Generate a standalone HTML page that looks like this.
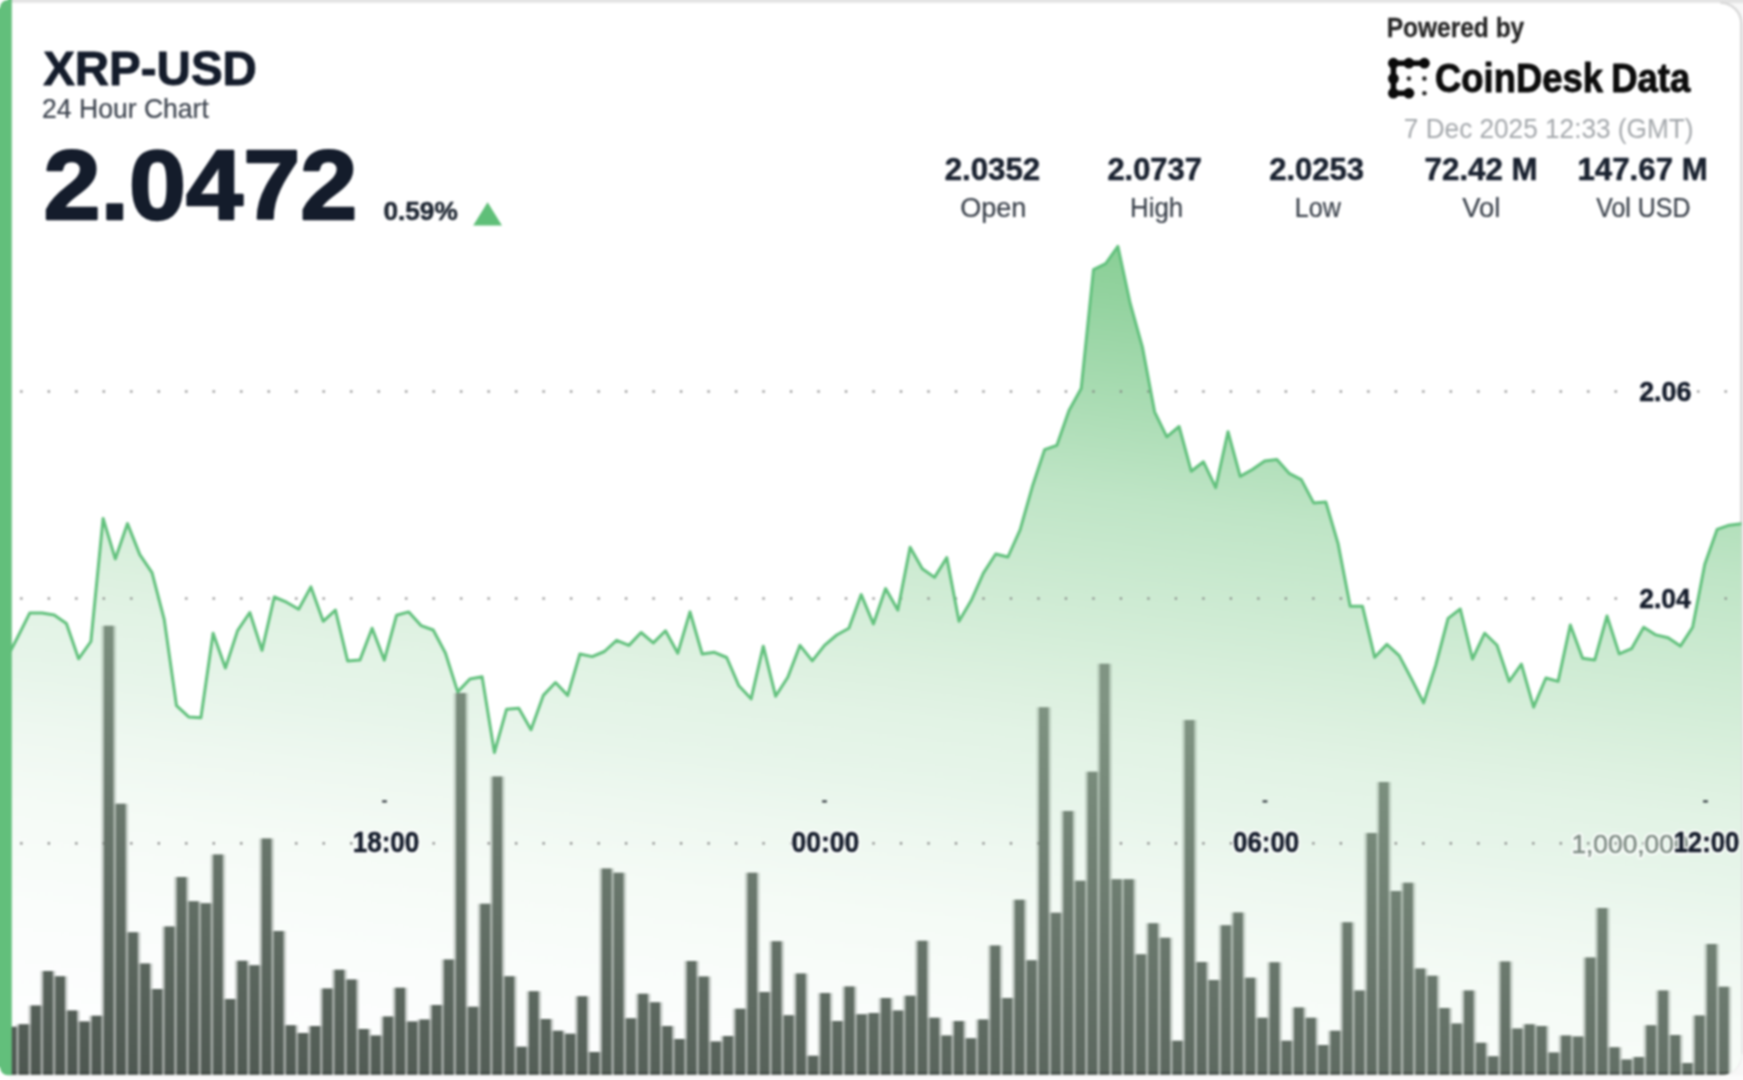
<!DOCTYPE html>
<html><head><meta charset="utf-8"><title>XRP-USD 24 Hour Chart</title><style>html,body{margin:0;padding:0;background:#fff;}body{width:1743px;height:1080px;overflow:hidden;position:relative;font-family:"Liberation Sans",sans-serif;}svg{display:block;filter:blur(0.9px);}</style></head><body><svg width="1767" height="1104" viewBox="-12 -12 1767 1104" style="position:absolute;left:-12px;top:-12px">
<defs><linearGradient id="gf" gradientUnits="userSpaceOnUse" x1="870.00" y1="170.93" x2="742.03" y2="1174.61"><stop offset="0.0000" stop-color="rgb(129,204,143)"/><stop offset="0.0392" stop-color="rgb(137,207,149)"/><stop offset="0.0980" stop-color="rgb(148,211,160)"/><stop offset="0.2892" stop-color="rgb(191,229,198)"/><stop offset="0.4902" stop-color="rgb(221,241,224)"/><stop offset="0.5294" stop-color="rgb(226,243,229)"/><stop offset="0.5902" stop-color="rgb(231,245,234)"/><stop offset="0.6490" stop-color="rgb(238,248,240)"/><stop offset="0.7255" stop-color="rgb(245,251,246)"/><stop offset="0.8235" stop-color="rgb(250,253,251)"/><stop offset="0.9216" stop-color="rgb(253,254,254)"/><stop offset="1.0000" stop-color="rgb(255,255,255)"/></linearGradient><linearGradient id="gb" gradientUnits="userSpaceOnUse" x1="870.00" y1="670.92" x2="804.76" y2="1182.61"><stop offset="0.0000" stop-color="rgb(128,148,131)"/><stop offset="0.0769" stop-color="rgb(124,144,127)"/><stop offset="0.4423" stop-color="rgb(106,120,109)"/><stop offset="0.9115" stop-color="rgb(81,91,84)"/><stop offset="1.0000" stop-color="rgb(77,86,80)"/></linearGradient><clipPath id="cc"><path d="M0,2.8 H1720.4 A21,21 0 0 1 1741.4,23.8 V1054.3 A21,21 0 0 1 1720.4,1075.3 H8 A8,8 0 0 1 0,1067.3 Z"/></clipPath><filter id="bl" x="-5%" y="-5%" width="110%" height="110%"><feGaussianBlur stdDeviation="0.7"/></filter></defs>
<rect x="-12" y="-12" width="1767" height="1104" fill="#f7f7f7"/>
<rect x="-12" y="-12" width="1767" height="15.0" fill="#e3e3e3"/>
<rect x="-12" y="1075.3" width="1767" height="16.700000000000045" fill="#fbfbfb"/>
<path d="M0,2.8 H1720.4 A21,21 0 0 1 1741.4,23.8 V1054.3 A21,21 0 0 1 1720.4,1075.3 H8 A8,8 0 0 1 0,1067.3 Z" fill="#ffffff"/>
<path d="M1720.4,2.8 A21,21 0 0 1 1741.4,23.8 V1054.3" fill="none" stroke="#d9d9d9" stroke-width="2.6"/>
<path d="M1741.4,1054.3 A21,21 0 0 1 1720.4,1075.3 H12" fill="none" stroke="#e9e9e9" stroke-width="1.6"/>
<g clip-path="url(#cc)">
<path d="M5.3,661.0 L17.5,637.5 L29.7,613.1 L42.0,613.0 L54.2,614.9 L66.4,623.5 L78.6,658.8 L90.9,641.5 L103.1,518.4 L115.3,558.9 L127.5,523.6 L139.8,554.6 L152.0,572.7 L164.2,619.4 L176.5,705.7 L188.7,716.9 L200.9,717.8 L213.1,633.2 L225.4,668.0 L237.6,630.6 L249.8,612.5 L262.0,650.4 L274.3,597.0 L286.5,602.2 L298.7,609.3 L310.9,586.9 L323.2,621.3 L335.4,610.1 L347.6,660.9 L359.9,660.1 L372.1,628.2 L384.3,660.1 L396.5,615.3 L408.8,611.9 L421.0,625.6 L433.2,630.0 L445.4,653.0 L457.7,691.9 L469.9,679.0 L482.1,676.8 L494.4,752.5 L506.6,709.2 L518.8,708.3 L531.0,729.8 L543.3,695.4 L555.5,682.5 L567.7,695.4 L579.9,654.0 L592.2,656.6 L604.4,651.5 L616.6,640.3 L628.9,645.4 L641.1,632.5 L653.3,642.9 L665.5,630.8 L677.8,653.2 L690.0,611.9 L702.2,654.0 L714.4,652.3 L726.7,657.5 L738.9,685.8 L751.1,698.8 L763.3,646.2 L775.6,696.2 L787.8,677.2 L800.0,645.4 L812.3,660.9 L824.5,645.4 L836.7,635.0 L848.9,628.2 L861.2,594.6 L873.4,623.9 L885.6,588.6 L897.8,610.1 L910.1,547.2 L922.3,568.7 L934.5,577.4 L946.8,557.6 L959.0,621.3 L971.2,600.6 L983.4,573.1 L995.7,554.0 L1007.9,557.0 L1020.1,529.8 L1032.3,486.8 L1044.6,449.7 L1056.8,445.4 L1069.0,410.4 L1081.2,388.5 L1093.5,269.6 L1105.7,263.6 L1117.9,246.4 L1130.2,303.5 L1142.4,347.1 L1154.6,411.8 L1166.8,436.8 L1179.1,426.5 L1191.3,471.3 L1203.5,461.8 L1215.7,487.6 L1228.0,431.7 L1240.2,476.4 L1252.4,469.5 L1264.7,460.9 L1276.9,459.5 L1289.1,473.3 L1301.3,479.6 L1313.6,502.9 L1325.8,502.0 L1338.0,543.3 L1350.2,606.3 L1362.5,606.3 L1374.7,657.3 L1386.9,644.4 L1399.2,655.6 L1411.4,678.8 L1423.6,702.9 L1435.8,665.0 L1448.1,618.4 L1460.3,609.0 L1472.5,659.0 L1484.7,633.2 L1497.0,645.2 L1509.2,681.4 L1521.4,664.2 L1533.6,707.2 L1545.9,678.0 L1558.1,681.4 L1570.3,625.0 L1582.6,658.2 L1594.8,659.9 L1607.0,616.0 L1619.2,653.9 L1631.5,648.7 L1643.7,627.2 L1655.9,634.9 L1668.1,637.7 L1680.4,646.1 L1692.6,627.2 L1704.8,564.3 L1717.1,529.4 L1729.3,525.2 L1741.5,523.8 L1753.7,523.0 L1753.7,1074.6 L5.3,1074.6 Z" fill="url(#gf)"/>
<line x1="20.25" y1="391.5" x2="1743" y2="391.5" stroke="#7c7c7c" stroke-width="2.2" stroke-dasharray="2.2 25.29" opacity="1"/>
<line x1="20.25" y1="598.5" x2="1743" y2="598.5" stroke="#7c7c7c" stroke-width="2.2" stroke-dasharray="2.2 25.29" opacity="1"/>
<line x1="20.25" y1="843.4" x2="1743" y2="843.4" stroke="#7c7c7c" stroke-width="2.2" stroke-dasharray="2.2 25.29" opacity="1"/>
<path d="M4.16,1074.6V1026.8h14.8V1074.6z" fill="url(#gb)" opacity="0.33"/>
<path d="M16.30,1074.6V1024.2h14.8V1074.6z" fill="url(#gb)" opacity="0.33"/>
<path d="M28.44,1074.6V1005.4h14.8V1074.6z" fill="url(#gb)" opacity="0.33"/>
<path d="M40.59,1074.6V971.0h14.8V1074.6z" fill="url(#gb)" opacity="0.33"/>
<path d="M52.73,1074.6V976.2h14.8V1074.6z" fill="url(#gb)" opacity="0.33"/>
<path d="M64.88,1074.6V1010.5h14.8V1074.6z" fill="url(#gb)" opacity="0.33"/>
<path d="M77.02,1074.6V1021.6h14.8V1074.6z" fill="url(#gb)" opacity="0.33"/>
<path d="M89.16,1074.6V1015.7h14.8V1074.6z" fill="url(#gb)" opacity="0.33"/>
<path d="M101.31,1074.6V625.8h14.8V1074.6z" fill="url(#gb)" opacity="0.33"/>
<path d="M113.45,1074.6V803.7h14.8V1074.6z" fill="url(#gb)" opacity="0.33"/>
<path d="M125.60,1074.6V932.3h14.8V1074.6z" fill="url(#gb)" opacity="0.33"/>
<path d="M137.74,1074.6V963.5h14.8V1074.6z" fill="url(#gb)" opacity="0.33"/>
<path d="M149.88,1074.6V989.1h14.8V1074.6z" fill="url(#gb)" opacity="0.33"/>
<path d="M162.03,1074.6V926.6h14.8V1074.6z" fill="url(#gb)" opacity="0.33"/>
<path d="M174.17,1074.6V877.0h14.8V1074.6z" fill="url(#gb)" opacity="0.33"/>
<path d="M186.32,1074.6V901.3h14.8V1074.6z" fill="url(#gb)" opacity="0.33"/>
<path d="M198.46,1074.6V903.3h14.8V1074.6z" fill="url(#gb)" opacity="0.33"/>
<path d="M210.60,1074.6V854.6h14.8V1074.6z" fill="url(#gb)" opacity="0.33"/>
<path d="M222.75,1074.6V998.9h14.8V1074.6z" fill="url(#gb)" opacity="0.33"/>
<path d="M234.89,1074.6V960.7h14.8V1074.6z" fill="url(#gb)" opacity="0.33"/>
<path d="M247.04,1074.6V965.3h14.8V1074.6z" fill="url(#gb)" opacity="0.33"/>
<path d="M259.18,1074.6V838.5h14.8V1074.6z" fill="url(#gb)" opacity="0.33"/>
<path d="M271.32,1074.6V931.0h14.8V1074.6z" fill="url(#gb)" opacity="0.33"/>
<path d="M283.47,1074.6V1025.3h14.8V1074.6z" fill="url(#gb)" opacity="0.33"/>
<path d="M295.61,1074.6V1033.0h14.8V1074.6z" fill="url(#gb)" opacity="0.33"/>
<path d="M307.76,1074.6V1026.0h14.8V1074.6z" fill="url(#gb)" opacity="0.33"/>
<path d="M319.90,1074.6V988.6h14.8V1074.6z" fill="url(#gb)" opacity="0.33"/>
<path d="M332.04,1074.6V969.7h14.8V1074.6z" fill="url(#gb)" opacity="0.33"/>
<path d="M344.19,1074.6V979.5h14.8V1074.6z" fill="url(#gb)" opacity="0.33"/>
<path d="M356.33,1074.6V1029.1h14.8V1074.6z" fill="url(#gb)" opacity="0.33"/>
<path d="M368.48,1074.6V1035.6h14.8V1074.6z" fill="url(#gb)" opacity="0.33"/>
<path d="M380.62,1074.6V1016.5h14.8V1074.6z" fill="url(#gb)" opacity="0.33"/>
<path d="M392.76,1074.6V987.8h14.8V1074.6z" fill="url(#gb)" opacity="0.33"/>
<path d="M404.91,1074.6V1021.4h14.8V1074.6z" fill="url(#gb)" opacity="0.33"/>
<path d="M417.05,1074.6V1019.6h14.8V1074.6z" fill="url(#gb)" opacity="0.33"/>
<path d="M429.20,1074.6V1004.9h14.8V1074.6z" fill="url(#gb)" opacity="0.33"/>
<path d="M441.34,1074.6V959.4h14.8V1074.6z" fill="url(#gb)" opacity="0.33"/>
<path d="M453.48,1074.6V693.0h14.8V1074.6z" fill="url(#gb)" opacity="0.33"/>
<path d="M465.63,1074.6V1006.7h14.8V1074.6z" fill="url(#gb)" opacity="0.33"/>
<path d="M477.77,1074.6V903.8h14.8V1074.6z" fill="url(#gb)" opacity="0.33"/>
<path d="M489.92,1074.6V776.4h14.8V1074.6z" fill="url(#gb)" opacity="0.33"/>
<path d="M502.06,1074.6V976.2h14.8V1074.6z" fill="url(#gb)" opacity="0.33"/>
<path d="M514.20,1074.6V1046.7h14.8V1074.6z" fill="url(#gb)" opacity="0.33"/>
<path d="M526.35,1074.6V991.2h14.8V1074.6z" fill="url(#gb)" opacity="0.33"/>
<path d="M538.49,1074.6V1019.1h14.8V1074.6z" fill="url(#gb)" opacity="0.33"/>
<path d="M550.64,1074.6V1030.7h14.8V1074.6z" fill="url(#gb)" opacity="0.33"/>
<path d="M562.78,1074.6V1033.8h14.8V1074.6z" fill="url(#gb)" opacity="0.33"/>
<path d="M574.92,1074.6V996.3h14.8V1074.6z" fill="url(#gb)" opacity="0.33"/>
<path d="M587.07,1074.6V1051.9h14.8V1074.6z" fill="url(#gb)" opacity="0.33"/>
<path d="M599.21,1074.6V868.5h14.8V1074.6z" fill="url(#gb)" opacity="0.33"/>
<path d="M611.36,1074.6V872.8h14.8V1074.6z" fill="url(#gb)" opacity="0.33"/>
<path d="M623.50,1074.6V1018.3h14.8V1074.6z" fill="url(#gb)" opacity="0.33"/>
<path d="M635.64,1074.6V993.7h14.8V1074.6z" fill="url(#gb)" opacity="0.33"/>
<path d="M647.79,1074.6V1002.3h14.8V1074.6z" fill="url(#gb)" opacity="0.33"/>
<path d="M659.93,1074.6V1026.0h14.8V1074.6z" fill="url(#gb)" opacity="0.33"/>
<path d="M672.08,1074.6V1039.0h14.8V1074.6z" fill="url(#gb)" opacity="0.33"/>
<path d="M684.22,1074.6V960.9h14.8V1074.6z" fill="url(#gb)" opacity="0.33"/>
<path d="M696.36,1074.6V976.4h14.8V1074.6z" fill="url(#gb)" opacity="0.33"/>
<path d="M708.51,1074.6V1041.5h14.8V1074.6z" fill="url(#gb)" opacity="0.33"/>
<path d="M720.65,1074.6V1035.9h14.8V1074.6z" fill="url(#gb)" opacity="0.33"/>
<path d="M732.80,1074.6V1008.7h14.8V1074.6z" fill="url(#gb)" opacity="0.33"/>
<path d="M744.94,1074.6V872.8h14.8V1074.6z" fill="url(#gb)" opacity="0.33"/>
<path d="M757.08,1074.6V991.9h14.8V1074.6z" fill="url(#gb)" opacity="0.33"/>
<path d="M769.23,1074.6V941.3h14.8V1074.6z" fill="url(#gb)" opacity="0.33"/>
<path d="M781.37,1074.6V1015.2h14.8V1074.6z" fill="url(#gb)" opacity="0.33"/>
<path d="M793.52,1074.6V973.6h14.8V1074.6z" fill="url(#gb)" opacity="0.33"/>
<path d="M805.66,1074.6V1055.7h14.8V1074.6z" fill="url(#gb)" opacity="0.33"/>
<path d="M817.80,1074.6V993.1h14.8V1074.6z" fill="url(#gb)" opacity="0.33"/>
<path d="M829.95,1074.6V1021.0h14.8V1074.6z" fill="url(#gb)" opacity="0.33"/>
<path d="M842.09,1074.6V986.5h14.8V1074.6z" fill="url(#gb)" opacity="0.33"/>
<path d="M854.24,1074.6V1014.3h14.8V1074.6z" fill="url(#gb)" opacity="0.33"/>
<path d="M866.38,1074.6V1013.1h14.8V1074.6z" fill="url(#gb)" opacity="0.33"/>
<path d="M878.52,1074.6V997.9h14.8V1074.6z" fill="url(#gb)" opacity="0.33"/>
<path d="M890.67,1074.6V1010.5h14.8V1074.6z" fill="url(#gb)" opacity="0.33"/>
<path d="M902.81,1074.6V995.8h14.8V1074.6z" fill="url(#gb)" opacity="0.33"/>
<path d="M914.96,1074.6V940.8h14.8V1074.6z" fill="url(#gb)" opacity="0.33"/>
<path d="M927.10,1074.6V1017.8h14.8V1074.6z" fill="url(#gb)" opacity="0.33"/>
<path d="M939.24,1074.6V1035.6h14.8V1074.6z" fill="url(#gb)" opacity="0.33"/>
<path d="M951.39,1074.6V1020.9h14.8V1074.6z" fill="url(#gb)" opacity="0.33"/>
<path d="M963.53,1074.6V1038.2h14.8V1074.6z" fill="url(#gb)" opacity="0.33"/>
<path d="M975.68,1074.6V1019.6h14.8V1074.6z" fill="url(#gb)" opacity="0.33"/>
<path d="M987.82,1074.6V945.4h14.8V1074.6z" fill="url(#gb)" opacity="0.33"/>
<path d="M999.96,1074.6V998.1h14.8V1074.6z" fill="url(#gb)" opacity="0.33"/>
<path d="M1012.11,1074.6V899.8h14.8V1074.6z" fill="url(#gb)" opacity="0.33"/>
<path d="M1024.25,1074.6V960.2h14.8V1074.6z" fill="url(#gb)" opacity="0.33"/>
<path d="M1036.40,1074.6V707.2h14.8V1074.6z" fill="url(#gb)" opacity="0.33"/>
<path d="M1048.54,1074.6V912.7h14.8V1074.6z" fill="url(#gb)" opacity="0.33"/>
<path d="M1060.68,1074.6V811.0h14.8V1074.6z" fill="url(#gb)" opacity="0.33"/>
<path d="M1072.83,1074.6V880.7h14.8V1074.6z" fill="url(#gb)" opacity="0.33"/>
<path d="M1084.97,1074.6V771.7h14.8V1074.6z" fill="url(#gb)" opacity="0.33"/>
<path d="M1097.12,1074.6V663.8h14.8V1074.6z" fill="url(#gb)" opacity="0.33"/>
<path d="M1109.26,1074.6V879.3h14.8V1074.6z" fill="url(#gb)" opacity="0.33"/>
<path d="M1121.40,1074.6V879.3h14.8V1074.6z" fill="url(#gb)" opacity="0.33"/>
<path d="M1133.55,1074.6V954.2h14.8V1074.6z" fill="url(#gb)" opacity="0.33"/>
<path d="M1145.69,1074.6V923.2h14.8V1074.6z" fill="url(#gb)" opacity="0.33"/>
<path d="M1157.84,1074.6V937.7h14.8V1074.6z" fill="url(#gb)" opacity="0.33"/>
<path d="M1169.98,1074.6V1040.8h14.8V1074.6z" fill="url(#gb)" opacity="0.33"/>
<path d="M1182.12,1074.6V720.1h14.8V1074.6z" fill="url(#gb)" opacity="0.33"/>
<path d="M1194.27,1074.6V962.0h14.8V1074.6z" fill="url(#gb)" opacity="0.33"/>
<path d="M1206.41,1074.6V980.0h14.8V1074.6z" fill="url(#gb)" opacity="0.33"/>
<path d="M1218.56,1074.6V925.3h14.8V1074.6z" fill="url(#gb)" opacity="0.33"/>
<path d="M1230.70,1074.6V912.4h14.8V1074.6z" fill="url(#gb)" opacity="0.33"/>
<path d="M1242.84,1074.6V977.7h14.8V1074.6z" fill="url(#gb)" opacity="0.33"/>
<path d="M1254.99,1074.6V1017.8h14.8V1074.6z" fill="url(#gb)" opacity="0.33"/>
<path d="M1267.13,1074.6V962.2h14.8V1074.6z" fill="url(#gb)" opacity="0.33"/>
<path d="M1279.28,1074.6V1040.8h14.8V1074.6z" fill="url(#gb)" opacity="0.33"/>
<path d="M1291.42,1074.6V1007.4h14.8V1074.6z" fill="url(#gb)" opacity="0.33"/>
<path d="M1303.56,1074.6V1017.8h14.8V1074.6z" fill="url(#gb)" opacity="0.33"/>
<path d="M1315.71,1074.6V1044.9h14.8V1074.6z" fill="url(#gb)" opacity="0.33"/>
<path d="M1327.85,1074.6V1030.7h14.8V1074.6z" fill="url(#gb)" opacity="0.33"/>
<path d="M1340.00,1074.6V922.2h14.8V1074.6z" fill="url(#gb)" opacity="0.33"/>
<path d="M1352.14,1074.6V990.4h14.8V1074.6z" fill="url(#gb)" opacity="0.33"/>
<path d="M1364.28,1074.6V833.0h14.8V1074.6z" fill="url(#gb)" opacity="0.33"/>
<path d="M1376.43,1074.6V782.1h14.8V1074.6z" fill="url(#gb)" opacity="0.33"/>
<path d="M1388.57,1074.6V891.0h14.8V1074.6z" fill="url(#gb)" opacity="0.33"/>
<path d="M1400.72,1074.6V882.7h14.8V1074.6z" fill="url(#gb)" opacity="0.33"/>
<path d="M1412.86,1074.6V968.4h14.8V1074.6z" fill="url(#gb)" opacity="0.33"/>
<path d="M1425.00,1074.6V975.7h14.8V1074.6z" fill="url(#gb)" opacity="0.33"/>
<path d="M1437.15,1074.6V1008.0h14.8V1074.6z" fill="url(#gb)" opacity="0.33"/>
<path d="M1449.29,1074.6V1023.5h14.8V1074.6z" fill="url(#gb)" opacity="0.33"/>
<path d="M1461.44,1074.6V990.6h14.8V1074.6z" fill="url(#gb)" opacity="0.33"/>
<path d="M1473.58,1074.6V1042.8h14.8V1074.6z" fill="url(#gb)" opacity="0.33"/>
<path d="M1485.72,1074.6V1056.3h14.8V1074.6z" fill="url(#gb)" opacity="0.33"/>
<path d="M1497.87,1074.6V961.5h14.8V1074.6z" fill="url(#gb)" opacity="0.33"/>
<path d="M1510.01,1074.6V1028.6h14.8V1074.6z" fill="url(#gb)" opacity="0.33"/>
<path d="M1522.16,1074.6V1024.2h14.8V1074.6z" fill="url(#gb)" opacity="0.33"/>
<path d="M1534.30,1074.6V1026.0h14.8V1074.6z" fill="url(#gb)" opacity="0.33"/>
<path d="M1546.44,1074.6V1052.6h14.8V1074.6z" fill="url(#gb)" opacity="0.33"/>
<path d="M1558.59,1074.6V1035.6h14.8V1074.6z" fill="url(#gb)" opacity="0.33"/>
<path d="M1570.73,1074.6V1036.4h14.8V1074.6z" fill="url(#gb)" opacity="0.33"/>
<path d="M1582.88,1074.6V957.6h14.8V1074.6z" fill="url(#gb)" opacity="0.33"/>
<path d="M1595.02,1074.6V908.0h14.8V1074.6z" fill="url(#gb)" opacity="0.33"/>
<path d="M1607.16,1074.6V1047.2h14.8V1074.6z" fill="url(#gb)" opacity="0.33"/>
<path d="M1619.31,1074.6V1059.6h14.8V1074.6z" fill="url(#gb)" opacity="0.33"/>
<path d="M1631.45,1074.6V1057.0h14.8V1074.6z" fill="url(#gb)" opacity="0.33"/>
<path d="M1643.60,1074.6V1025.3h14.8V1074.6z" fill="url(#gb)" opacity="0.33"/>
<path d="M1655.74,1074.6V990.6h14.8V1074.6z" fill="url(#gb)" opacity="0.33"/>
<path d="M1667.88,1074.6V1035.1h14.8V1074.6z" fill="url(#gb)" opacity="0.33"/>
<path d="M1680.03,1074.6V1063.0h14.8V1074.6z" fill="url(#gb)" opacity="0.33"/>
<path d="M1692.17,1074.6V1015.4h14.8V1074.6z" fill="url(#gb)" opacity="0.33"/>
<path d="M1704.32,1074.6V944.1h14.8V1074.6z" fill="url(#gb)" opacity="0.33"/>
<path d="M1716.46,1074.6V986.7h14.8V1074.6z" fill="url(#gb)" opacity="0.33"/>
<path d="M6.76,1074.6V1026.8h9.6V1074.6zM18.90,1074.6V1024.2h9.6V1074.6zM31.04,1074.6V1005.4h9.6V1074.6zM43.19,1074.6V971.0h9.6V1074.6zM55.33,1074.6V976.2h9.6V1074.6zM67.48,1074.6V1010.5h9.6V1074.6zM79.62,1074.6V1021.6h9.6V1074.6zM91.76,1074.6V1015.7h9.6V1074.6zM103.91,1074.6V625.8h9.6V1074.6zM116.05,1074.6V803.7h9.6V1074.6zM128.20,1074.6V932.3h9.6V1074.6zM140.34,1074.6V963.5h9.6V1074.6zM152.48,1074.6V989.1h9.6V1074.6zM164.63,1074.6V926.6h9.6V1074.6zM176.77,1074.6V877.0h9.6V1074.6zM188.92,1074.6V901.3h9.6V1074.6zM201.06,1074.6V903.3h9.6V1074.6zM213.20,1074.6V854.6h9.6V1074.6zM225.35,1074.6V998.9h9.6V1074.6zM237.49,1074.6V960.7h9.6V1074.6zM249.64,1074.6V965.3h9.6V1074.6zM261.78,1074.6V838.5h9.6V1074.6zM273.92,1074.6V931.0h9.6V1074.6zM286.07,1074.6V1025.3h9.6V1074.6zM298.21,1074.6V1033.0h9.6V1074.6zM310.36,1074.6V1026.0h9.6V1074.6zM322.50,1074.6V988.6h9.6V1074.6zM334.64,1074.6V969.7h9.6V1074.6zM346.79,1074.6V979.5h9.6V1074.6zM358.93,1074.6V1029.1h9.6V1074.6zM371.08,1074.6V1035.6h9.6V1074.6zM383.22,1074.6V1016.5h9.6V1074.6zM395.36,1074.6V987.8h9.6V1074.6zM407.51,1074.6V1021.4h9.6V1074.6zM419.65,1074.6V1019.6h9.6V1074.6zM431.80,1074.6V1004.9h9.6V1074.6zM443.94,1074.6V959.4h9.6V1074.6zM456.08,1074.6V693.0h9.6V1074.6zM468.23,1074.6V1006.7h9.6V1074.6zM480.37,1074.6V903.8h9.6V1074.6zM492.52,1074.6V776.4h9.6V1074.6zM504.66,1074.6V976.2h9.6V1074.6zM516.80,1074.6V1046.7h9.6V1074.6zM528.95,1074.6V991.2h9.6V1074.6zM541.09,1074.6V1019.1h9.6V1074.6zM553.24,1074.6V1030.7h9.6V1074.6zM565.38,1074.6V1033.8h9.6V1074.6zM577.52,1074.6V996.3h9.6V1074.6zM589.67,1074.6V1051.9h9.6V1074.6zM601.81,1074.6V868.5h9.6V1074.6zM613.96,1074.6V872.8h9.6V1074.6zM626.10,1074.6V1018.3h9.6V1074.6zM638.24,1074.6V993.7h9.6V1074.6zM650.39,1074.6V1002.3h9.6V1074.6zM662.53,1074.6V1026.0h9.6V1074.6zM674.68,1074.6V1039.0h9.6V1074.6zM686.82,1074.6V960.9h9.6V1074.6zM698.96,1074.6V976.4h9.6V1074.6zM711.11,1074.6V1041.5h9.6V1074.6zM723.25,1074.6V1035.9h9.6V1074.6zM735.40,1074.6V1008.7h9.6V1074.6zM747.54,1074.6V872.8h9.6V1074.6zM759.68,1074.6V991.9h9.6V1074.6zM771.83,1074.6V941.3h9.6V1074.6zM783.97,1074.6V1015.2h9.6V1074.6zM796.12,1074.6V973.6h9.6V1074.6zM808.26,1074.6V1055.7h9.6V1074.6zM820.40,1074.6V993.1h9.6V1074.6zM832.55,1074.6V1021.0h9.6V1074.6zM844.69,1074.6V986.5h9.6V1074.6zM856.84,1074.6V1014.3h9.6V1074.6zM868.98,1074.6V1013.1h9.6V1074.6zM881.12,1074.6V997.9h9.6V1074.6zM893.27,1074.6V1010.5h9.6V1074.6zM905.41,1074.6V995.8h9.6V1074.6zM917.56,1074.6V940.8h9.6V1074.6zM929.70,1074.6V1017.8h9.6V1074.6zM941.84,1074.6V1035.6h9.6V1074.6zM953.99,1074.6V1020.9h9.6V1074.6zM966.13,1074.6V1038.2h9.6V1074.6zM978.28,1074.6V1019.6h9.6V1074.6zM990.42,1074.6V945.4h9.6V1074.6zM1002.56,1074.6V998.1h9.6V1074.6zM1014.71,1074.6V899.8h9.6V1074.6zM1026.85,1074.6V960.2h9.6V1074.6zM1039.00,1074.6V707.2h9.6V1074.6zM1051.14,1074.6V912.7h9.6V1074.6zM1063.28,1074.6V811.0h9.6V1074.6zM1075.43,1074.6V880.7h9.6V1074.6zM1087.57,1074.6V771.7h9.6V1074.6zM1099.72,1074.6V663.8h9.6V1074.6zM1111.86,1074.6V879.3h9.6V1074.6zM1124.00,1074.6V879.3h9.6V1074.6zM1136.15,1074.6V954.2h9.6V1074.6zM1148.29,1074.6V923.2h9.6V1074.6zM1160.44,1074.6V937.7h9.6V1074.6zM1172.58,1074.6V1040.8h9.6V1074.6zM1184.72,1074.6V720.1h9.6V1074.6zM1196.87,1074.6V962.0h9.6V1074.6zM1209.01,1074.6V980.0h9.6V1074.6zM1221.16,1074.6V925.3h9.6V1074.6zM1233.30,1074.6V912.4h9.6V1074.6zM1245.44,1074.6V977.7h9.6V1074.6zM1257.59,1074.6V1017.8h9.6V1074.6zM1269.73,1074.6V962.2h9.6V1074.6zM1281.88,1074.6V1040.8h9.6V1074.6zM1294.02,1074.6V1007.4h9.6V1074.6zM1306.16,1074.6V1017.8h9.6V1074.6zM1318.31,1074.6V1044.9h9.6V1074.6zM1330.45,1074.6V1030.7h9.6V1074.6zM1342.60,1074.6V922.2h9.6V1074.6zM1354.74,1074.6V990.4h9.6V1074.6zM1366.88,1074.6V833.0h9.6V1074.6zM1379.03,1074.6V782.1h9.6V1074.6zM1391.17,1074.6V891.0h9.6V1074.6zM1403.32,1074.6V882.7h9.6V1074.6zM1415.46,1074.6V968.4h9.6V1074.6zM1427.60,1074.6V975.7h9.6V1074.6zM1439.75,1074.6V1008.0h9.6V1074.6zM1451.89,1074.6V1023.5h9.6V1074.6zM1464.04,1074.6V990.6h9.6V1074.6zM1476.18,1074.6V1042.8h9.6V1074.6zM1488.32,1074.6V1056.3h9.6V1074.6zM1500.47,1074.6V961.5h9.6V1074.6zM1512.61,1074.6V1028.6h9.6V1074.6zM1524.76,1074.6V1024.2h9.6V1074.6zM1536.90,1074.6V1026.0h9.6V1074.6zM1549.04,1074.6V1052.6h9.6V1074.6zM1561.19,1074.6V1035.6h9.6V1074.6zM1573.33,1074.6V1036.4h9.6V1074.6zM1585.48,1074.6V957.6h9.6V1074.6zM1597.62,1074.6V908.0h9.6V1074.6zM1609.76,1074.6V1047.2h9.6V1074.6zM1621.91,1074.6V1059.6h9.6V1074.6zM1634.05,1074.6V1057.0h9.6V1074.6zM1646.20,1074.6V1025.3h9.6V1074.6zM1658.34,1074.6V990.6h9.6V1074.6zM1670.48,1074.6V1035.1h9.6V1074.6zM1682.63,1074.6V1063.0h9.6V1074.6zM1694.77,1074.6V1015.4h9.6V1074.6zM1706.92,1074.6V944.1h9.6V1074.6zM1719.06,1074.6V986.7h9.6V1074.6z" fill="url(#gb)"/>
<clipPath id="cbase"><rect x="0" y="1072.3" width="1743" height="3"/></clipPath>
<path d="M6.76,1074.6V1026.8h9.6V1074.6zM18.90,1074.6V1024.2h9.6V1074.6zM31.04,1074.6V1005.4h9.6V1074.6zM43.19,1074.6V971.0h9.6V1074.6zM55.33,1074.6V976.2h9.6V1074.6zM67.48,1074.6V1010.5h9.6V1074.6zM79.62,1074.6V1021.6h9.6V1074.6zM91.76,1074.6V1015.7h9.6V1074.6zM103.91,1074.6V625.8h9.6V1074.6zM116.05,1074.6V803.7h9.6V1074.6zM128.20,1074.6V932.3h9.6V1074.6zM140.34,1074.6V963.5h9.6V1074.6zM152.48,1074.6V989.1h9.6V1074.6zM164.63,1074.6V926.6h9.6V1074.6zM176.77,1074.6V877.0h9.6V1074.6zM188.92,1074.6V901.3h9.6V1074.6zM201.06,1074.6V903.3h9.6V1074.6zM213.20,1074.6V854.6h9.6V1074.6zM225.35,1074.6V998.9h9.6V1074.6zM237.49,1074.6V960.7h9.6V1074.6zM249.64,1074.6V965.3h9.6V1074.6zM261.78,1074.6V838.5h9.6V1074.6zM273.92,1074.6V931.0h9.6V1074.6zM286.07,1074.6V1025.3h9.6V1074.6zM298.21,1074.6V1033.0h9.6V1074.6zM310.36,1074.6V1026.0h9.6V1074.6zM322.50,1074.6V988.6h9.6V1074.6zM334.64,1074.6V969.7h9.6V1074.6zM346.79,1074.6V979.5h9.6V1074.6zM358.93,1074.6V1029.1h9.6V1074.6zM371.08,1074.6V1035.6h9.6V1074.6zM383.22,1074.6V1016.5h9.6V1074.6zM395.36,1074.6V987.8h9.6V1074.6zM407.51,1074.6V1021.4h9.6V1074.6zM419.65,1074.6V1019.6h9.6V1074.6zM431.80,1074.6V1004.9h9.6V1074.6zM443.94,1074.6V959.4h9.6V1074.6zM456.08,1074.6V693.0h9.6V1074.6zM468.23,1074.6V1006.7h9.6V1074.6zM480.37,1074.6V903.8h9.6V1074.6zM492.52,1074.6V776.4h9.6V1074.6zM504.66,1074.6V976.2h9.6V1074.6zM516.80,1074.6V1046.7h9.6V1074.6zM528.95,1074.6V991.2h9.6V1074.6zM541.09,1074.6V1019.1h9.6V1074.6zM553.24,1074.6V1030.7h9.6V1074.6zM565.38,1074.6V1033.8h9.6V1074.6zM577.52,1074.6V996.3h9.6V1074.6zM589.67,1074.6V1051.9h9.6V1074.6zM601.81,1074.6V868.5h9.6V1074.6zM613.96,1074.6V872.8h9.6V1074.6zM626.10,1074.6V1018.3h9.6V1074.6zM638.24,1074.6V993.7h9.6V1074.6zM650.39,1074.6V1002.3h9.6V1074.6zM662.53,1074.6V1026.0h9.6V1074.6zM674.68,1074.6V1039.0h9.6V1074.6zM686.82,1074.6V960.9h9.6V1074.6zM698.96,1074.6V976.4h9.6V1074.6zM711.11,1074.6V1041.5h9.6V1074.6zM723.25,1074.6V1035.9h9.6V1074.6zM735.40,1074.6V1008.7h9.6V1074.6zM747.54,1074.6V872.8h9.6V1074.6zM759.68,1074.6V991.9h9.6V1074.6zM771.83,1074.6V941.3h9.6V1074.6zM783.97,1074.6V1015.2h9.6V1074.6zM796.12,1074.6V973.6h9.6V1074.6zM808.26,1074.6V1055.7h9.6V1074.6zM820.40,1074.6V993.1h9.6V1074.6zM832.55,1074.6V1021.0h9.6V1074.6zM844.69,1074.6V986.5h9.6V1074.6zM856.84,1074.6V1014.3h9.6V1074.6zM868.98,1074.6V1013.1h9.6V1074.6zM881.12,1074.6V997.9h9.6V1074.6zM893.27,1074.6V1010.5h9.6V1074.6zM905.41,1074.6V995.8h9.6V1074.6zM917.56,1074.6V940.8h9.6V1074.6zM929.70,1074.6V1017.8h9.6V1074.6zM941.84,1074.6V1035.6h9.6V1074.6zM953.99,1074.6V1020.9h9.6V1074.6zM966.13,1074.6V1038.2h9.6V1074.6zM978.28,1074.6V1019.6h9.6V1074.6zM990.42,1074.6V945.4h9.6V1074.6zM1002.56,1074.6V998.1h9.6V1074.6zM1014.71,1074.6V899.8h9.6V1074.6zM1026.85,1074.6V960.2h9.6V1074.6zM1039.00,1074.6V707.2h9.6V1074.6zM1051.14,1074.6V912.7h9.6V1074.6zM1063.28,1074.6V811.0h9.6V1074.6zM1075.43,1074.6V880.7h9.6V1074.6zM1087.57,1074.6V771.7h9.6V1074.6zM1099.72,1074.6V663.8h9.6V1074.6zM1111.86,1074.6V879.3h9.6V1074.6zM1124.00,1074.6V879.3h9.6V1074.6zM1136.15,1074.6V954.2h9.6V1074.6zM1148.29,1074.6V923.2h9.6V1074.6zM1160.44,1074.6V937.7h9.6V1074.6zM1172.58,1074.6V1040.8h9.6V1074.6zM1184.72,1074.6V720.1h9.6V1074.6zM1196.87,1074.6V962.0h9.6V1074.6zM1209.01,1074.6V980.0h9.6V1074.6zM1221.16,1074.6V925.3h9.6V1074.6zM1233.30,1074.6V912.4h9.6V1074.6zM1245.44,1074.6V977.7h9.6V1074.6zM1257.59,1074.6V1017.8h9.6V1074.6zM1269.73,1074.6V962.2h9.6V1074.6zM1281.88,1074.6V1040.8h9.6V1074.6zM1294.02,1074.6V1007.4h9.6V1074.6zM1306.16,1074.6V1017.8h9.6V1074.6zM1318.31,1074.6V1044.9h9.6V1074.6zM1330.45,1074.6V1030.7h9.6V1074.6zM1342.60,1074.6V922.2h9.6V1074.6zM1354.74,1074.6V990.4h9.6V1074.6zM1366.88,1074.6V833.0h9.6V1074.6zM1379.03,1074.6V782.1h9.6V1074.6zM1391.17,1074.6V891.0h9.6V1074.6zM1403.32,1074.6V882.7h9.6V1074.6zM1415.46,1074.6V968.4h9.6V1074.6zM1427.60,1074.6V975.7h9.6V1074.6zM1439.75,1074.6V1008.0h9.6V1074.6zM1451.89,1074.6V1023.5h9.6V1074.6zM1464.04,1074.6V990.6h9.6V1074.6zM1476.18,1074.6V1042.8h9.6V1074.6zM1488.32,1074.6V1056.3h9.6V1074.6zM1500.47,1074.6V961.5h9.6V1074.6zM1512.61,1074.6V1028.6h9.6V1074.6zM1524.76,1074.6V1024.2h9.6V1074.6zM1536.90,1074.6V1026.0h9.6V1074.6zM1549.04,1074.6V1052.6h9.6V1074.6zM1561.19,1074.6V1035.6h9.6V1074.6zM1573.33,1074.6V1036.4h9.6V1074.6zM1585.48,1074.6V957.6h9.6V1074.6zM1597.62,1074.6V908.0h9.6V1074.6zM1609.76,1074.6V1047.2h9.6V1074.6zM1621.91,1074.6V1059.6h9.6V1074.6zM1634.05,1074.6V1057.0h9.6V1074.6zM1646.20,1074.6V1025.3h9.6V1074.6zM1658.34,1074.6V990.6h9.6V1074.6zM1670.48,1074.6V1035.1h9.6V1074.6zM1682.63,1074.6V1063.0h9.6V1074.6zM1694.77,1074.6V1015.4h9.6V1074.6zM1706.92,1074.6V944.1h9.6V1074.6zM1719.06,1074.6V986.7h9.6V1074.6z" fill="#3a413d" opacity="0.7" clip-path="url(#cbase)"/>
<path d="M5.3,661.0 L17.5,637.5 L29.7,613.1 L42.0,613.0 L54.2,614.9 L66.4,623.5 L78.6,658.8 L90.9,641.5 L103.1,518.4 L115.3,558.9 L127.5,523.6 L139.8,554.6 L152.0,572.7 L164.2,619.4 L176.5,705.7 L188.7,716.9 L200.9,717.8 L213.1,633.2 L225.4,668.0 L237.6,630.6 L249.8,612.5 L262.0,650.4 L274.3,597.0 L286.5,602.2 L298.7,609.3 L310.9,586.9 L323.2,621.3 L335.4,610.1 L347.6,660.9 L359.9,660.1 L372.1,628.2 L384.3,660.1 L396.5,615.3 L408.8,611.9 L421.0,625.6 L433.2,630.0 L445.4,653.0 L457.7,691.9 L469.9,679.0 L482.1,676.8 L494.4,752.5 L506.6,709.2 L518.8,708.3 L531.0,729.8 L543.3,695.4 L555.5,682.5 L567.7,695.4 L579.9,654.0 L592.2,656.6 L604.4,651.5 L616.6,640.3 L628.9,645.4 L641.1,632.5 L653.3,642.9 L665.5,630.8 L677.8,653.2 L690.0,611.9 L702.2,654.0 L714.4,652.3 L726.7,657.5 L738.9,685.8 L751.1,698.8 L763.3,646.2 L775.6,696.2 L787.8,677.2 L800.0,645.4 L812.3,660.9 L824.5,645.4 L836.7,635.0 L848.9,628.2 L861.2,594.6 L873.4,623.9 L885.6,588.6 L897.8,610.1 L910.1,547.2 L922.3,568.7 L934.5,577.4 L946.8,557.6 L959.0,621.3 L971.2,600.6 L983.4,573.1 L995.7,554.0 L1007.9,557.0 L1020.1,529.8 L1032.3,486.8 L1044.6,449.7 L1056.8,445.4 L1069.0,410.4 L1081.2,388.5 L1093.5,269.6 L1105.7,263.6 L1117.9,246.4 L1130.2,303.5 L1142.4,347.1 L1154.6,411.8 L1166.8,436.8 L1179.1,426.5 L1191.3,471.3 L1203.5,461.8 L1215.7,487.6 L1228.0,431.7 L1240.2,476.4 L1252.4,469.5 L1264.7,460.9 L1276.9,459.5 L1289.1,473.3 L1301.3,479.6 L1313.6,502.9 L1325.8,502.0 L1338.0,543.3 L1350.2,606.3 L1362.5,606.3 L1374.7,657.3 L1386.9,644.4 L1399.2,655.6 L1411.4,678.8 L1423.6,702.9 L1435.8,665.0 L1448.1,618.4 L1460.3,609.0 L1472.5,659.0 L1484.7,633.2 L1497.0,645.2 L1509.2,681.4 L1521.4,664.2 L1533.6,707.2 L1545.9,678.0 L1558.1,681.4 L1570.3,625.0 L1582.6,658.2 L1594.8,659.9 L1607.0,616.0 L1619.2,653.9 L1631.5,648.7 L1643.7,627.2 L1655.9,634.9 L1668.1,637.7 L1680.4,646.1 L1692.6,627.2 L1704.8,564.3 L1717.1,529.4 L1729.3,525.2 L1741.5,523.8 L1753.7,523.0" fill="none" stroke="#62c17d" stroke-width="3.0" stroke-linejoin="round" stroke-linecap="round"/>
</g>
<rect x="-12" y="-12" width="22" height="22" fill="#ffffff"/>
<rect x="-12" y="1065.3" width="22" height="26.700000000000045" fill="#ffffff"/>
<path d="M11.8,-12 V1075.3 H8 A8,8 0 0 1 0,1067.3 H-12 V8 H0 A8,8 0 0 1 8,0 V-12 Z" fill="#62bf7b"/>
<g font-family="'Liberation Sans', sans-serif">
<text id="title" x="43.14" y="84.75" font-size="48.8" font-weight="700" textLength="213.77" lengthAdjust="spacingAndGlyphs" fill="#141c2b" stroke="#141c2b" stroke-width="0.9" stroke-linejoin="round">XRP-USD</text>
<text id="sub" x="42.08" y="117.6" font-size="28.0" font-weight="400" textLength="166.76" lengthAdjust="spacingAndGlyphs" fill="#3c434e" stroke="#3c434e" stroke-width="0.2" stroke-linejoin="round">24 Hour Chart</text>
<text id="price" x="43.57" y="219.0" font-size="99.0" font-weight="700" textLength="313.65" lengthAdjust="spacingAndGlyphs" fill="#141c2b" stroke="#141c2b" stroke-width="2.4" stroke-linejoin="round">2.0472</text>
<text id="pct" x="383.42" y="219.6" font-size="26.0" font-weight="700" textLength="74.29" lengthAdjust="spacingAndGlyphs" fill="#1f2733" stroke="#1f2733" stroke-width="0.5" stroke-linejoin="round">0.59%</text>
<text id="powered" x="1386.70" y="37.4" font-size="27.0" font-weight="700" textLength="137.56" lengthAdjust="spacingAndGlyphs" fill="#262626" stroke="#262626" stroke-width="0.3" stroke-linejoin="round">Powered by</text>
<text id="coindesk" x="1435.09" y="92.1" font-size="39.8" font-weight="700" textLength="167.87" lengthAdjust="spacingAndGlyphs" fill="#0c0c0c" stroke="#0c0c0c" stroke-width="0.9" stroke-linejoin="round">CoinDesk</text>
<text id="data" x="1611.19" y="92.1" font-size="39.8" font-weight="700" textLength="79.15" lengthAdjust="spacingAndGlyphs" fill="#0c0c0c" stroke="#0c0c0c" stroke-width="0.9" stroke-linejoin="round">Data</text>
<text id="date" x="1403.83" y="137.7" font-size="28.3" font-weight="400" textLength="289.60" lengthAdjust="spacingAndGlyphs" fill="#a3a7ab">7 Dec 2025 12:33 (GMT)</text>
<text id="v1" x="944.66" y="179.9" font-size="30.6" font-weight="700" textLength="95.56" lengthAdjust="spacingAndGlyphs" fill="#1a2230" stroke="#1a2230" stroke-width="0.5" stroke-linejoin="round">2.0352</text>
<text id="v2" x="1107.45" y="179.9" font-size="30.6" font-weight="700" textLength="94.42" lengthAdjust="spacingAndGlyphs" fill="#1a2230" stroke="#1a2230" stroke-width="0.5" stroke-linejoin="round">2.0737</text>
<text id="v3" x="1269.29" y="179.9" font-size="30.6" font-weight="700" textLength="94.77" lengthAdjust="spacingAndGlyphs" fill="#1a2230" stroke="#1a2230" stroke-width="0.5" stroke-linejoin="round">2.0253</text>
<text id="v4" x="1424.62" y="179.9" font-size="30.6" font-weight="700" textLength="112.97" lengthAdjust="spacingAndGlyphs" fill="#1a2230" stroke="#1a2230" stroke-width="0.5" stroke-linejoin="round">72.42 M</text>
<text id="v5" x="1577.41" y="179.9" font-size="30.6" font-weight="700" textLength="130.45" lengthAdjust="spacingAndGlyphs" fill="#1a2230" stroke="#1a2230" stroke-width="0.5" stroke-linejoin="round">147.67 M</text>
<text id="l1" x="960.13" y="217.0" font-size="27.0" font-weight="400" textLength="66.18" lengthAdjust="spacingAndGlyphs" fill="#373e48" stroke="#373e48" stroke-width="0.2" stroke-linejoin="round">Open</text>
<text id="l2" x="1130.05" y="217.0" font-size="27.0" font-weight="400" textLength="52.99" lengthAdjust="spacingAndGlyphs" fill="#373e48" stroke="#373e48" stroke-width="0.2" stroke-linejoin="round">High</text>
<text id="l3" x="1294.68" y="217.0" font-size="27.0" font-weight="400" textLength="46.15" lengthAdjust="spacingAndGlyphs" fill="#373e48" stroke="#373e48" stroke-width="0.2" stroke-linejoin="round">Low</text>
<text id="l4" x="1462.32" y="217.0" font-size="27.0" font-weight="400" textLength="38.12" lengthAdjust="spacingAndGlyphs" fill="#373e48" stroke="#373e48" stroke-width="0.2" stroke-linejoin="round">Vol</text>
<text id="l5" x="1596.18" y="217.0" font-size="27.0" font-weight="400" textLength="94.23" lengthAdjust="spacingAndGlyphs" fill="#373e48" stroke="#373e48" stroke-width="0.2" stroke-linejoin="round">Vol USD</text>
<text x="1571.38" y="852.6" font-size="26.5" font-weight="400" textLength="117.20" lengthAdjust="spacingAndGlyphs" fill="#ffffff" stroke="#ffffff" stroke-opacity="0.8" stroke-width="4.5" stroke-linejoin="round">1,000,000</text>
<text id="vol" x="1571.38" y="852.6" font-size="26.5" font-weight="400" textLength="117.20" lengthAdjust="spacingAndGlyphs" fill="#7b8a81" stroke="#7b8a81" stroke-width="0.5" stroke-linejoin="round">1,000,000</text>
<text x="352.70" y="852.3" font-size="28.8" font-weight="700" textLength="66.65" lengthAdjust="spacingAndGlyphs" fill="#ffffff" stroke="#ffffff" stroke-opacity="0.8" stroke-width="4.5" stroke-linejoin="round">18:00</text>
<text id="t1" x="352.70" y="852.3" font-size="28.8" font-weight="700" textLength="66.65" lengthAdjust="spacingAndGlyphs" fill="#141c2b" stroke="#141c2b" stroke-width="0.5" stroke-linejoin="round">18:00</text>
<text x="791.51" y="852.3" font-size="28.8" font-weight="700" textLength="67.71" lengthAdjust="spacingAndGlyphs" fill="#ffffff" stroke="#ffffff" stroke-opacity="0.8" stroke-width="4.5" stroke-linejoin="round">00:00</text>
<text id="t2" x="791.51" y="852.3" font-size="28.8" font-weight="700" textLength="67.71" lengthAdjust="spacingAndGlyphs" fill="#141c2b" stroke="#141c2b" stroke-width="0.5" stroke-linejoin="round">00:00</text>
<text x="1233.04" y="852.3" font-size="28.8" font-weight="700" textLength="66.24" lengthAdjust="spacingAndGlyphs" fill="#ffffff" stroke="#ffffff" stroke-opacity="0.8" stroke-width="4.5" stroke-linejoin="round">06:00</text>
<text id="t3" x="1233.04" y="852.3" font-size="28.8" font-weight="700" textLength="66.24" lengthAdjust="spacingAndGlyphs" fill="#141c2b" stroke="#141c2b" stroke-width="0.5" stroke-linejoin="round">06:00</text>
<text x="1673.51" y="852.3" font-size="28.8" font-weight="700" textLength="65.95" lengthAdjust="spacingAndGlyphs" fill="#ffffff" stroke="#ffffff" stroke-opacity="0.8" stroke-width="4.5" stroke-linejoin="round">12:00</text>
<text id="t4" x="1673.51" y="852.3" font-size="28.8" font-weight="700" textLength="65.95" lengthAdjust="spacingAndGlyphs" fill="#141c2b" stroke="#141c2b" stroke-width="0.5" stroke-linejoin="round">12:00</text>
<text x="1639.17" y="400.9" font-size="28.5" font-weight="700" textLength="52.25" lengthAdjust="spacingAndGlyphs" fill="#ffffff" stroke="#ffffff" stroke-opacity="0.8" stroke-width="4.5" stroke-linejoin="round">2.06</text>
<text id="y1" x="1639.17" y="400.9" font-size="28.5" font-weight="700" textLength="52.25" lengthAdjust="spacingAndGlyphs" fill="#141c2b" stroke="#141c2b" stroke-width="0.5" stroke-linejoin="round">2.06</text>
<text x="1639.21" y="607.9" font-size="28.5" font-weight="700" textLength="51.50" lengthAdjust="spacingAndGlyphs" fill="#ffffff" stroke="#ffffff" stroke-opacity="0.8" stroke-width="4.5" stroke-linejoin="round">2.04</text>
<text id="y2" x="1639.21" y="607.9" font-size="28.5" font-weight="700" textLength="51.50" lengthAdjust="spacingAndGlyphs" fill="#141c2b" stroke="#141c2b" stroke-width="0.5" stroke-linejoin="round">2.04</text>
</g>
<path d="M487.6,202.2 L502.0,225.4 H473.2 Z" fill="#5fbf78"/>
<path d="M1424.4,63.2 H1393.4 V93.2 H1408.9" fill="none" stroke="#0a0a0a" stroke-width="5.6" stroke-linejoin="round" stroke-linecap="round"/><circle cx="1393.4" cy="63.2" r="5.4" fill="#0a0a0a"/><circle cx="1408.9" cy="63.2" r="5.4" fill="#0a0a0a"/><circle cx="1424.4" cy="63.2" r="5.4" fill="#0a0a0a"/><circle cx="1393.4" cy="78.6" r="5.4" fill="#0a0a0a"/><circle cx="1393.4" cy="93.2" r="5.4" fill="#0a0a0a"/><circle cx="1408.9" cy="93.2" r="5.4" fill="#0a0a0a"/><circle cx="1408.9" cy="78.6" r="2.3" fill="#2a2a2a"/><circle cx="1424.4" cy="78.6" r="2.3" fill="#2a2a2a"/><circle cx="1424.4" cy="93.2" r="2.3" fill="#2a2a2a"/>
<rect x="382.1" y="800.3" width="4.8" height="2.2" fill="#333a40"/>
<rect x="822.1" y="800.3" width="4.8" height="2.2" fill="#333a40"/>
<rect x="1262.6" y="800.3" width="4.8" height="2.2" fill="#333a40"/>
<rect x="1703.1" y="800.3" width="4.8" height="2.2" fill="#333a40"/>
</svg></body></html>
